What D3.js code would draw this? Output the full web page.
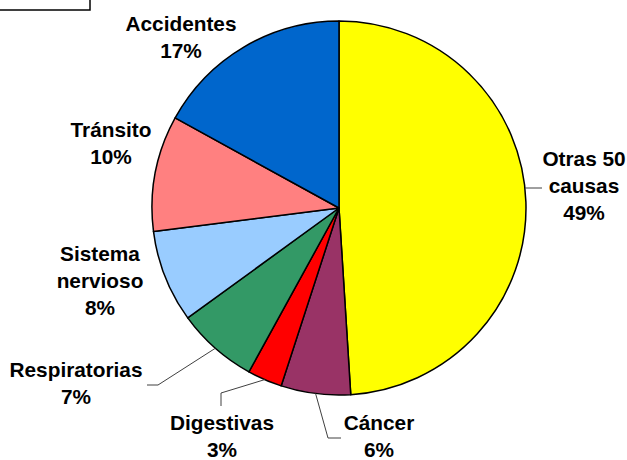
<!DOCTYPE html>
<html>
<head>
<meta charset="utf-8">
<script src="https://cdn.jsdelivr.net/npm/d3@7"></script>
<style>
  body { margin: 0; background: #fff; }
  text { font-family: "Liberation Sans", Arial, sans-serif; font-weight: bold; font-size: 20.8px; fill: #000; }
</style>
</head>
<body>
<div id="chart"></div>
<script>
// Slices clockwise from 12 o'clock
var categories = ["Otras 50\ncausas", "Cáncer", "Digestivas", "Respiratorias", "Sistema\nnervioso", "Tránsito", "Accidentes"];
var values = [49, 6, 3, 7, 8, 10, 17];
var colors = ["#FFFF00", "#993366", "#FF0000", "#339966", "#99CCFF", "#FF8080", "#0066CC"];

// label placement: [center x, first baseline]
var labelPos = [[584, 166], [379, 430], [222, 430], [76, 377], [100, 261], [111, 137], [181, 31]];
// leader line bends (after the point on the pie edge)
var leaderBends = [[[542, 188]], [[328, 438], [341, 438]], [[221, 393], [221, 406]], [[158, 385], [147, 385]], null, null, null];

var width = 627, height = 460;
var cx = 339, cy = 208, r = 187, lineH = 27;

var svg = d3.select('#chart').append('svg')
            .attr('width', width)
            .attr('height', height);

// cropped box in the top-left corner
svg.append('rect')
   .attr('x', -2).attr('y', -2)
   .attr('width', 92).attr('height', 12)
   .attr('fill', 'none')
   .attr('stroke', '#000')
   .attr('stroke-width', 1.5);

var pie = d3.pie().sort(null).value(function(d) { return d; });
var arcs = pie(values);

var arc = d3.arc().innerRadius(0).outerRadius(r);

var g = svg.append('g')
           .attr('transform', 'translate(' + cx + ',' + cy + ')');

g.selectAll('path.slice')
  .data(arcs)
  .enter().append('path')
  .attr('class', 'slice')
  .attr('d', arc)
  .attr('fill', function(d, i) { return colors[i]; })
  .attr('stroke', '#000')
  .attr('stroke-width', 1.5)
  .attr('stroke-linejoin', 'round');

// leader lines
arcs.forEach(function(d, i) {
  if (!leaderBends[i]) return;
  var a = (d.startAngle + d.endAngle) / 2;
  var start;
  if (i === 0) {
    // horizontal line meeting the edge at the bend height
    var dy = leaderBends[i][0][1] - cy;
    start = [cx + Math.sqrt(r * r - dy * dy), leaderBends[i][0][1]];
  } else {
    start = [cx + r * Math.sin(a), cy - r * Math.cos(a)];
  }
  var pts = [start].concat(leaderBends[i]);
  svg.append('path')
     .attr('d', d3.line()(pts))
     .attr('fill', 'none')
     .attr('stroke', '#404040')
     .attr('stroke-width', 1);
});

// labels
categories.forEach(function(c, i) {
  var lines = c.split('\n').concat([values[i] + '%']);
  var t = svg.append('text')
             .attr('text-anchor', 'middle');
  lines.forEach(function(l, j) {
    t.append('tspan')
     .attr('x', labelPos[i][0])
     .attr('y', labelPos[i][1] + j * lineH)
     .text(l);
  });
});
</script>
</body>
</html>
